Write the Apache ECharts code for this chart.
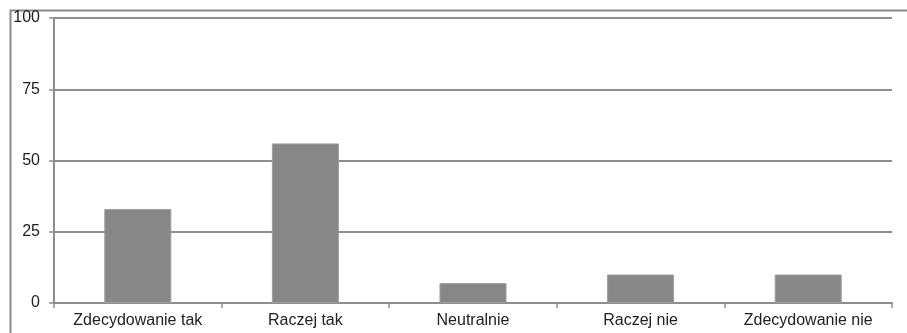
<!DOCTYPE html>
<html>
<head>
<meta charset="utf-8">
<script src="https://cdn.jsdelivr.net/npm/echarts@6/dist/echarts.min.js"></script>
<style>
  html, body { margin: 0; padding: 0; background: #fff; }
  #chart { width: 907px; height: 333px; }
</style>
</head>
<body>
<div id="chart"></div>
<script>
// Survey answers and their share (%)
const categories = ['Zdecydowanie tak', 'Raczej tak', 'Neutralnie', 'Raczej nie', 'Zdecydowanie nie'];
const values = [33, 56, 7, 10, 10];
const yTicks = [0, 25, 50, 75, 100];

const lineGray = '#8e8e8e';
const textColor = '#222';
const font = 'Liberation Sans, Arial, sans-serif';

const chart = echarts.init(document.getElementById('chart'), null, { renderer: 'canvas' });

chart.setOption({
  animation: false,
  backgroundColor: '#fff',
  graphic: [{
    type: 'rect',
    left: 8, top: 8,
    shape: { width: 1000, height: 1000 },
    style: { fill: 'none', stroke: '#8a8a8a', lineWidth: 2 },
    silent: true
  }],
  grid: { left: 54, right: 15, top: 18, bottom: 30, containLabel: false },
  xAxis: {
    type: 'category',
    data: categories,
    axisLine: { show: true, lineStyle: { color: lineGray, width: 2 } },
    axisTick: { show: true, length: 5, lineStyle: { color: lineGray, width: 1.5 } },
    axisLabel: { color: textColor, fontFamily: font, fontSize: 16, margin: 10, interval: 0 },
    splitLine: { show: false }
  },
  yAxis: {
    type: 'value',
    min: yTicks[0],
    max: yTicks[yTicks.length - 1],
    interval: yTicks[1] - yTicks[0],
    axisLine: { show: true, lineStyle: { color: lineGray, width: 2 } },
    axisTick: { show: true, length: 5, lineStyle: { color: lineGray, width: 1.5 } },
    axisLabel: { color: textColor, fontFamily: font, fontSize: 16, margin: 14 },
    splitLine: { show: true, lineStyle: { color: lineGray, width: 2 } }
  },
  series: [{
    type: 'bar',
    data: values,
    barCategoryGap: '60%',
    itemStyle: { color: '#878787', borderColor: '#a0a0a0', borderWidth: 1 }
  }]
});
</script>
</body>
</html>
